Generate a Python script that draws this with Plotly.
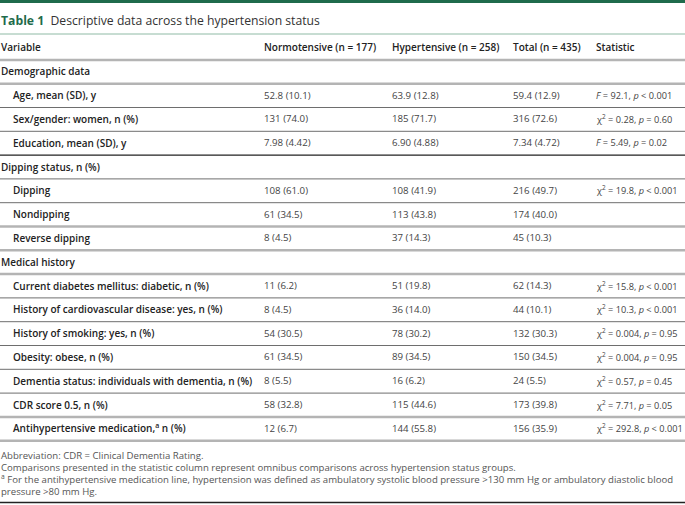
import plotly.graph_objects as go

# ---------------- data ----------------
title_label = "Table 1"
title_text = "Descriptive data across the hypertension status"
headers = ["Variable", "Normotensive (n = 177)", "Hypertensive (n = 258)", "Total (n = 435)", "Statistic"]

variables = [
    "Demographic data",
    "Age, mean (SD), y",
    "Sex/gender: women, n (%)",
    "Education, mean (SD), y",
    "Dipping status, n (%)",
    "Dipping",
    "Nondipping",
    "Reverse dipping",
    "Medical history",
    "Current diabetes mellitus: diabetic, n (%)",
    "History of cardiovascular disease: yes, n (%)",
    "History of smoking: yes, n (%)",
    "Obesity: obese, n (%)",
    "Dementia status: individuals with dementia, n (%)",
    "CDR score 0.5, n (%)",
    "Antihypertensive medication,<sup>a</sup> n (%)",
]
is_section = [True, False, False, False, True, False, False, False, True,
              False, False, False, False, False, False, False]
normotensive = ["", "52.8 (10.1)", "131 (74.0)", "7.98 (4.42)", "", "108 (61.0)", "61 (34.5)", "8 (4.5)", "",
                "11 (6.2)", "8 (4.5)", "54 (30.5)", "61 (34.5)", "8 (5.5)", "58 (32.8)", "12 (6.7)"]
hypertensive = ["", "63.9 (12.8)", "185 (71.7)", "6.90 (4.88)", "", "108 (41.9)", "113 (43.8)", "37 (14.3)", "",
                "51 (19.8)", "36 (14.0)", "78 (30.2)", "89 (34.5)", "16 (6.2)", "115 (44.6)", "144 (55.8)"]
total = ["", "59.4 (12.9)", "316 (72.6)", "7.34 (4.72)", "", "216 (49.7)", "174 (40.0)", "45 (10.3)", "",
         "62 (14.3)", "44 (10.1)", "132 (30.3)", "150 (34.5)", "24 (5.5)", "173 (39.8)", "156 (35.9)"]
CHI = "\u03c7<sup>2</sup>"
statistic = ["",
             "<i>F</i> = 92.1, <i>p</i> &lt; 0.001",
             CHI + " = 0.28, <i>p</i> = 0.60",
             "<i>F</i> = 5.49, <i>p</i> = 0.02",
             "",
             CHI + " = 19.8, <i>p</i> &lt; 0.001",
             "", "", "",
             CHI + " = 15.8, <i>p</i> &lt; 0.001",
             CHI + " = 10.3, <i>p</i> &lt; 0.001",
             CHI + " = 0.004, <i>p</i> = 0.95",
             CHI + " = 0.004, <i>p</i> = 0.95",
             CHI + " = 0.57, <i>p</i> = 0.45",
             CHI + " = 7.71, <i>p</i> = 0.05",
             CHI + " = 292.8, <i>p</i> &lt; 0.001"]
footnotes = [
    "Abbreviation: CDR = Clinical Dementia Rating.",
    "Comparisons presented in the statistic column represent omnibus comparisons across hypertension status groups.",
    "<sup>a</sup> For the antihypertensive medication line, hypertension was defined as ambulatory systolic blood pressure &gt;130 mm Hg or ambulatory diastolic blood",
    "pressure &gt;80 mm Hg.",
]

# ---------------- styles / layout ----------------
W, H = 685, 505
FONT = "Open Sans, Noto Sans, sans-serif"
GREEN = "#1f6b4c"
LABEL_C = "#222222"
VALUE_C = "#444444"
col_x = [1, 264, 392, 513, 596]
col_size = [9.7, 9.7, 9.7, 9.2]
indent = 12
title_y = 20
title_rule_y = 34
header_y = 46.5
body_top = 59.9
row_h = 23.8
foot_top = 455
foot_h = 12
# separator below each body row: 'thick' gray, 'thin' dark, 'black'
sep_style = ["thick", "thin", "thin", "black", "thin", "thin", "thick", "thick", "thick",
             "thin", "thin", "thin", "thin", "thin", "thick", "thick"]
sep_def = {"thick": dict(color="#b4b4b4", width=2.5),
           "thin": dict(color="#6e6e6e", width=1),
           "black": dict(color="#222222", width=1.3)}

fig = go.Figure()
annotations = []
shapes = []


def add_text(x, y, text, size, color, weight="normal"):
    annotations.append(dict(x=x, y=y, xref="x", yref="y", text=text, showarrow=False,
                            xanchor="left", yanchor="middle", borderpad=0, borderwidth=0,
                            font=dict(family=FONT, size=size, color=color, weight=weight)))


def hline(y, color, width):
    shapes.append(dict(type="line", xref="x", yref="y", x0=0, x1=W, y0=y, y1=y,
                       line=dict(color=color, width=width)))


# top green bar
shapes.append(dict(type="rect", xref="x", yref="y", x0=0, x1=W, y0=0, y1=3,
                   fillcolor=GREEN, line=dict(width=0)))
# title
add_text(col_x[0], title_y,
         f"<span style='color:{GREEN}'><b>{title_label}</b></span>  {title_text}", 12.2, "#333333")
hline(title_rule_y, "#8fbaa5", 1)

# header row
for cx, h in zip(col_x, headers):
    add_text(cx, header_y, h, 10, LABEL_C, 600)
hline(body_top, sep_def["thick"]["color"], sep_def["thick"]["width"])

# body
for i, var in enumerate(variables):
    yc = body_top + row_h * (i + 0.5) - 0.5
    lx = col_x[0] if is_section[i] else col_x[0] + indent
    add_text(lx, yc, var, 10, LABEL_C, 600)
    for cx, sz, col in zip(col_x[1:], col_size, [normotensive, hypertensive, total, statistic]):
        if col[i]:
            add_text(cx, yc, col[i], sz, VALUE_C)
    s = sep_def[sep_style[i]]
    hline(body_top + row_h * (i + 1), s["color"], s["width"])

# footnotes
for j, f in enumerate(footnotes):
    add_text(col_x[0], foot_top + foot_h * j, f, 9.6, "#555555")
hline(502.5, "#222222", 1.5)

fig.update_layout(
    width=W, height=H,
    margin=dict(l=0, r=0, t=0, b=0),
    paper_bgcolor="white", plot_bgcolor="white",
    xaxis=dict(range=[0, W], visible=False, fixedrange=True),
    yaxis=dict(range=[H, 0], visible=False, fixedrange=True),
    showlegend=False,
    annotations=annotations,
    shapes=shapes,
)

fig.write_html("out.html", config={"displayModeBar": False},
               post_script="document.body.style.margin='0px';")
